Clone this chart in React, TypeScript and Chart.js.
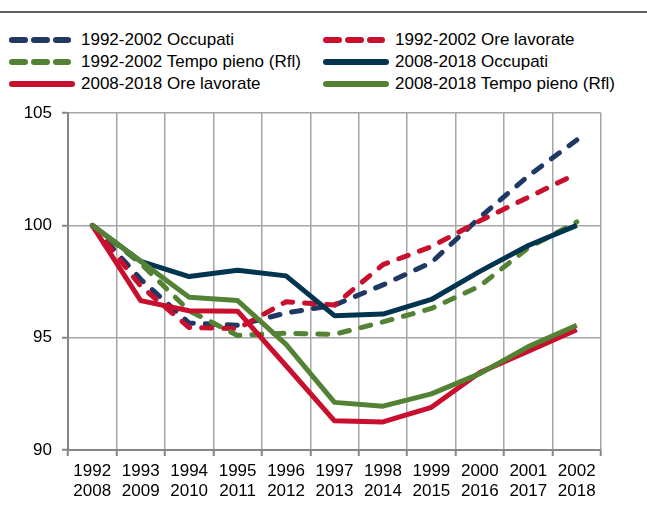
import React, { useEffect, useRef } from "react";
import { Chart, registerables } from "chart.js";

Chart.register(...registerables);

const YEARS_FIRST = ["1992", "1993", "1994", "1995", "1996", "1997", "1998", "1999", "2000", "2001", "2002"];
const YEARS_SECOND = ["2008", "2009", "2010", "2011", "2012", "2013", "2014", "2015", "2016", "2017", "2018"];

const OCC_9202 = [100, 97.6, 95.65, 95.55, 96.1, 96.45, 97.35, 98.35, 100.35, 102.2, 103.8];
const ORE_9202 = [100, 97.3, 95.45, 95.4, 96.6, 96.45, 98.25, 99.05, 100.2, 101.25, 102.3];
const TP_9202 = [100, 98.3, 96.2, 95.1, 95.2, 95.15, 95.7, 96.3, 97.3, 99.0, 100.15];
const OCC_0818 = [100, 98.4, 97.72, 98.0, 97.75, 95.98, 96.05, 96.7, 97.95, 99.1, 100.0];
const ORE_0818 = [100, 96.65, 96.2, 96.18, 93.75, 91.3, 91.25, 91.9, 93.45, 94.4, 95.35];
const TP_0818 = [100, 98.4, 96.8, 96.65, 94.7, 92.12, 91.95, 92.5, 93.4, 94.6, 95.55];

const Y_MIN = 90;
const Y_MAX = 105;
const Y_STEP = 5;

const NAVY_DASH = "#1F3864";
const NAVY = "#00344F";
const RED = "#C8102E";
const GREEN = "#548235";

const FONT = "'Liberation Sans', Arial, sans-serif";

type Series = { label: string; data: number[]; color: string; dashed: boolean };

const SERIES: Series[] = [
  { label: "1992-2002 Occupati", data: OCC_9202, color: NAVY_DASH, dashed: true },
  { label: "1992-2002 Ore lavorate", data: ORE_9202, color: RED, dashed: true },
  { label: "1992-2002 Tempo pieno (Rfl)", data: TP_9202, color: GREEN, dashed: true },
  { label: "2008-2018 Occupati", data: OCC_0818, color: NAVY, dashed: false },
  { label: "2008-2018 Ore lavorate", data: ORE_0818, color: RED, dashed: false },
  { label: "2008-2018 Tempo pieno (Rfl)", data: TP_0818, color: GREEN, dashed: false },
];

function Swatch({ color, dashed }: { color: string; dashed: boolean }) {
  const w = dashed ? 64 : 68;
  return (
    <svg width={w} height={10} style={{ display: "block" }}>
      {dashed ? (
        <>
          <line x1={4} y1={5} x2={17} y2={5} stroke={color} strokeWidth={6} strokeLinecap="round" />
          <line x1={26} y1={5} x2={39} y2={5} stroke={color} strokeWidth={6} strokeLinecap="round" />
          <line x1={48} y1={5} x2={60} y2={5} stroke={color} strokeWidth={6} strokeLinecap="round" />
        </>
      ) : (
        <line x1={4} y1={5} x2={64} y2={5} stroke={color} strokeWidth={6} strokeLinecap="round" />
      )}
    </svg>
  );
}

export default function App() {
  const canvasRef = useRef<HTMLCanvasElement | null>(null);

  useEffect(() => {
    const canvas = canvasRef.current;
    if (!canvas) return;
    const labels = YEARS_FIRST.map((y, i) => [y, YEARS_SECOND[i]]);
    const chart = new Chart(canvas, {
      type: "line",
      data: {
        labels,
        datasets: SERIES.map((s, i) => ({
          label: s.label,
          data: s.data,
          borderColor: s.color,
          backgroundColor: s.color,
          borderWidth: 5,
          borderDash: s.dashed ? [10, 12] : [],
          borderCapStyle: s.dashed ? "round" : "butt",
          borderJoinStyle: "round",
          pointRadius: 0,
          tension: 0,
          fill: false,
          order: SERIES.length - i,
        })),
      },
      options: {
        responsive: false,
        animation: false,
        devicePixelRatio: 1,
        layout: { padding: { top: 113, right: 46, left: 0, bottom: 0 } },
        plugins: { legend: { display: false }, tooltip: { enabled: false }, title: { display: false } },
        scales: {
          x: {
            type: "category",
            offset: true,
            grid: { offset: true, color: "#a6a6a6", lineWidth: 1.5, tickLength: 6, tickColor: "#868686", tickWidth: 2 },
            border: { color: "#868686", width: 2 },
            ticks: {
              color: "#000",
              font: { family: FONT, size: 17, lineHeight: 1.18 },
              padding: 5,
              maxRotation: 0,
              autoSkip: false,
            },
            afterFit: (s: any) => {
              s.height = 76;
            },
          },
          y: {
            min: Y_MIN,
            max: Y_MAX,
            grid: { color: "#a6a6a6", lineWidth: 1.5, tickLength: 6, tickColor: "#868686", tickWidth: 2 },
            border: { color: "#868686", width: 2 },
            ticks: {
              stepSize: Y_STEP,
              color: "#000",
              font: { family: FONT, size: 17 },
              padding: 10,
            },
            afterFit: (s: any) => {
              s.width = 68;
            },
          },
        },
      },
    } as any);
    return () => chart.destroy();
  }, []);

  const cellStyle: React.CSSProperties = {
    display: "flex",
    alignItems: "center",
    height: 22,
    whiteSpace: "nowrap",
  };

  return (
    <div style={{ position: "absolute", left: 0, top: 0, width: 647, height: 526, background: "#fff", fontFamily: FONT }}>
      <div style={{ position: "absolute", left: 0, top: 11, width: 647, height: 2, background: "#5f5f5f" }} />
      <div style={{ position: "absolute", left: 8, top: 29, width: 640 }}>
        {[0, 1, 2].map((row) => (
          <div key={row} style={{ display: "flex" }}>
            {[0, 1].map((col) => {
              const s = SERIES[row * 2 + col];
              return (
                <div key={col} style={{ ...cellStyle, width: col === 0 ? 314 : 320 }}>
                  <Swatch color={s.color} dashed={s.dashed} />
                  <span style={{ fontSize: 17, color: "#000", marginLeft: s.dashed ? 9 : 5 }}>{s.label}</span>
                </div>
              );
            })}
          </div>
        ))}
      </div>
      <canvas ref={canvasRef} width={647} height={526} style={{ position: "absolute", left: 0, top: 0, width: 647, height: 526 }} />
    </div>
  );
}
